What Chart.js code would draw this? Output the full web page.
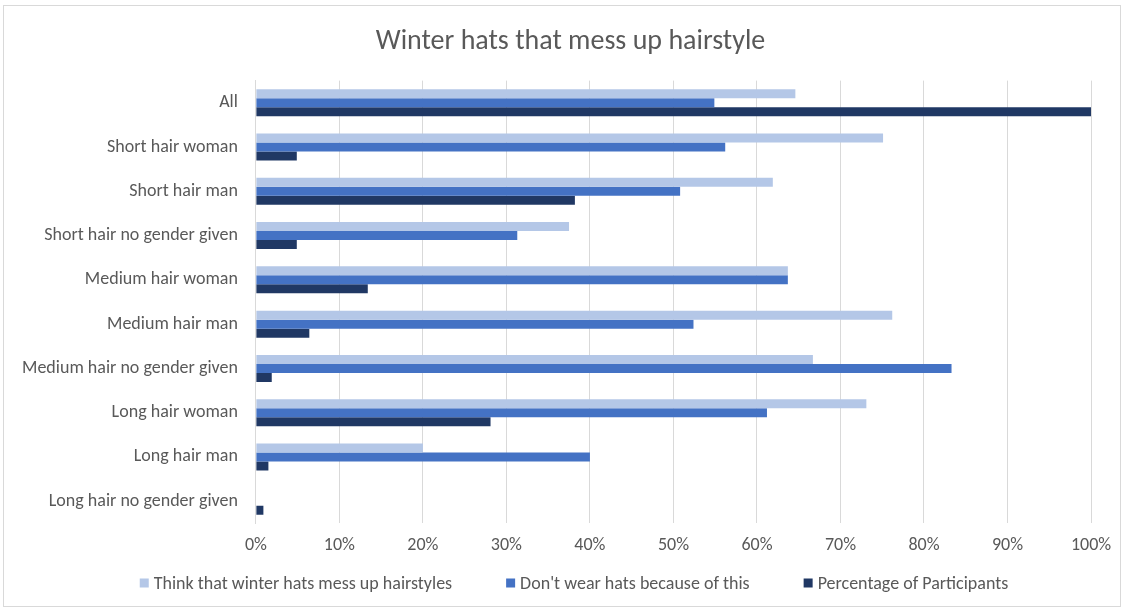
<!DOCTYPE html>
<html>
<head>
<meta charset="utf-8">
<script src="https://cdn.jsdelivr.net/npm/chart.js@4"></script>
<style>
  html, body { margin: 0; padding: 0; background: #fff; }
  #wrap { position: relative; width: 1124px; height: 610px; }
</style>
</head>
<body>
<div id="wrap"><canvas id="hatChart"></canvas></div>
<script>
// categories (top to bottom)
const categories = [
  'All',
  'Short hair woman',
  'Short hair man',
  'Short hair no gender given',
  'Medium hair woman',
  'Medium hair man',
  'Medium hair no gender given',
  'Long hair woman',
  'Long hair man',
  'Long hair no gender given'
];

// series values in percent
const thinkMessUp = [64.6, 75.1, 61.9, 37.5, 63.7, 76.2, 66.7, 73.1, 20.0, 0];
const dontWear = [54.9, 56.2, 50.8, 31.3, 63.7, 52.4, 83.3, 61.2, 40.0, 0];
const participants = [100, 4.9, 38.2, 4.9, 13.4, 6.4, 1.9, 28.1, 1.5, 0.9];

// x axis
const xMin = 0;
const xMax = 100;
const xStep = 10;

const textColor = '#595959';
const fontFamily = 'Carlito, Calibri, Lato, "Open Sans", sans-serif';

// white background + outer border like the Excel chart area
const chartBorder = {
  id: 'chartBorder',
  beforeDraw(chart) {
    const ctx = chart.ctx;
    ctx.save();
    ctx.fillStyle = '#ffffff';
    ctx.fillRect(0, 0, chart.width, chart.height);
    ctx.strokeStyle = '#d9d9d9';
    ctx.lineWidth = 1;
    ctx.strokeRect(3.5, 5.5, chart.width - 7, chart.height - 9);
    ctx.restore();
  }
};

// the Excel title sits a little right of the middle
const titleNudge = {
  id: 'titleNudge',
  afterLayout(chart) {
    const t = chart.titleBlock;
    if (t) {
      t.left += 23;
      t.right += 23;
    }
  }
};

// Excel style legend: wide gaps between items but sitting close to the axis,
// which the built-in legend can't do (its padding is used on every side)
const bottomLegend = {
  id: 'bottomLegend',
  afterDraw(chart) {
    const ctx = chart.ctx;
    const sets = chart.data.datasets;
    const box = 9, gapText = 5, gapItem = 54;
    const centerX = 574, centerY = 583;
    ctx.save();
    ctx.font = '18px ' + fontFamily;
    ctx.textBaseline = 'middle';
    ctx.textAlign = 'left';
    const widths = sets.map(ds => box + gapText + ctx.measureText(ds.label).width);
    const total = widths.reduce((a, b) => a + b, 0) + gapItem * (sets.length - 1);
    let x = centerX - total / 2;
    sets.forEach((ds, i) => {
      ctx.fillStyle = ds.backgroundColor;
      ctx.fillRect(x, centerY - box / 2, box, box);
      ctx.fillStyle = textColor;
      ctx.fillText(ds.label, x + box + gapText, centerY + 1);
      x += widths[i] + gapItem;
    });
    ctx.restore();
  }
};

try {
  const ctx = document.getElementById('hatChart');
  new Chart(ctx, {
    type: 'bar',
    data: {
      labels: categories,
      datasets: [{
        label: 'Think that winter hats mess up hairstyles',
        data: thinkMessUp,
        backgroundColor: '#b4c7e7'
      }, {
        label: "Don't wear hats because of this",
        data: dontWear,
        backgroundColor: '#4472c4'
      }, {
        label: 'Percentage of Participants',
        data: participants,
        backgroundColor: '#203864'
      }]
    },
    options: {
      indexAxis: 'y',
      responsive: true,
      maintainAspectRatio: false,
      animation: false,
      datasets: {
        bar: {
          barPercentage: 1.0,
          categoryPercentage: 0.61
        }
      },
      layout: {
        padding: { left: 4, right: 33, top: 6, bottom: 43 }
      },
      plugins: {
        title: {
          display: true,
          text: 'Winter hats that mess up hairstyle',
          color: textColor,
          font: { family: fontFamily, size: 28, weight: 'normal' },
          padding: { top: 19, bottom: 22 }
        },
        legend: { display: false },
        tooltip: { enabled: true }
      },
      scales: {
        x: {
          min: xMin,
          max: xMax,
          ticks: {
            stepSize: xStep,
            color: textColor,
            padding: 11,
            font: { family: fontFamily, size: 18 },
            callback: function (v) { return v + '%'; }
          },
          grid: {
            color: '#d9d9d9',
            lineWidth: 1,
            drawTicks: false
          },
          border: { display: false }
        },
        y: {
          ticks: {
            color: textColor,
            padding: 18,
            font: { family: fontFamily, size: 18 }
          },
          grid: { display: false, drawTicks: false },
          border: { display: true, color: '#d9d9d9' }
        }
      }
    },
    plugins: [chartBorder, titleNudge, bottomLegend]
  });
}
catch (error) {
  console.error('An error occurred while initializing the chart:', error);
}
</script>
</body>
</html>
